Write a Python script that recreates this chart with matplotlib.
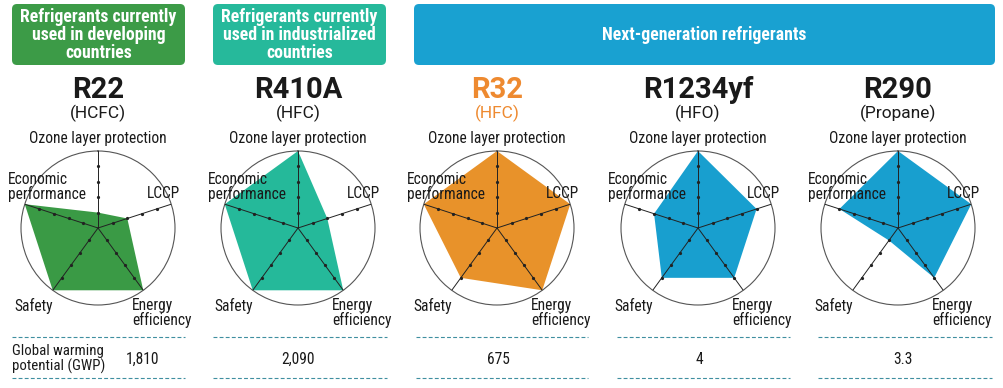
import numpy as np
import matplotlib
matplotlib.use('Agg')
import matplotlib.pyplot as plt
from matplotlib.patches import FancyBboxPatch
from matplotlib import font_manager

W, H = 1004, 388

# data
axes_labels = ['Ozone layer protection', 'LCCP', 'Energy\nefficiency', 'Safety', 'Economic\nperformance']
refrigerants = ['R22', 'R410A', 'R32', 'R1234yf', 'R290']
ref_types = ['(HCFC)', '(HFC)', '(HFC)', '(HFO)', '(Propane)']
r22 = [1, 2, 5, 5, 5]
r410a = [5, 2, 5, 5, 5]
r32 = [5, 5, 5, 4, 5]
r1234yf = [5, 4, 4, 4, 3]
r290 = [5, 5, 4, 1, 4]
gwp = ['1,810', '2,090', '675', '4', '3.3']
group_labels = ['Refrigerants currently\nused in developing\ncountries',
                'Refrigerants currently\nused in industrialized\ncountries',
                'Next-generation refrigerants']

scores = [r22, r410a, r32, r1234yf, r290]
fills = ['#3a9a45', '#25b99a', '#e8922a', '#189fcf', '#189fcf']
title_colors = ['#1a1a1a', '#1a1a1a', '#ee8a30', '#1a1a1a', '#1a1a1a']
box_colors = ['#3c9b47', '#26b99b', '#19a1d1']

names = {f.name for f in font_manager.fontManager.ttflist}
NARROW = [n for n in ['Liberation Sans Narrow', 'Roboto Condensed'] if n in names] + ['Roboto']
TITLE = ['Roboto', 'DejaVu Sans']
narrow_ok = NARROW[0] != 'Roboto'
fs_lab = 11.2 if narrow_ok else 9.3
fs_head = 12.8 if narrow_ok else 10.5

centers = [98, 298, 497, 698, 898]
cy = 228
R = 77

fig = plt.figure(figsize=(W / 100, H / 100), dpi=100)
bg = fig.add_axes([0, 0, 1, 1])
bg.set_xlim(0, W)
bg.set_ylim(H, 0)
bg.axis('off')

theta = np.linspace(0, 2 * np.pi, len(axes_labels), endpoint=False)

# radars first, text overlay afterwards
for i, cx in enumerate(centers):
    ax = fig.add_axes([(cx - R) / W, (H - cy - R) / H, 2 * R / W, 2 * R / H],
                      projection='polar')
    ax.set_theta_offset(np.pi / 2)
    ax.set_theta_direction(-1)
    ax.patch.set_alpha(0)
    vals = scores[i] + scores[i][:1]
    th = np.append(theta, theta[0])
    ax.fill(th, vals, color=fills[i], lw=0, zorder=1)
    for t in theta:
        ax.plot([t, t], [0, 5], color='#222222', lw=0.7, zorder=3)
    ax.plot(np.repeat(theta, 4), np.tile([1, 2, 3, 4], len(theta)), 'o',
            ms=1.3, color='#222222', zorder=3)
    ax.set_ylim(0, 5)
    ax.set_xticks([])
    ax.set_yticks([])
    ax.grid(False)
    ax.spines['polar'].set_color('#555555')
    ax.spines['polar'].set_linewidth(0.8)

top = fig.add_axes([0, 0, 1, 1])
top.set_xlim(0, W)
top.set_ylim(H, 0)
top.axis('off')
top.patch.set_alpha(0)

# group header boxes
boxes = [(12, 185), (213, 386), (414, 995)]
for (x0, x1), lab, col in zip(boxes, group_labels, box_colors):
    top.add_patch(FancyBboxPatch((x0 + 5, 9), x1 - x0 - 10, 51,
                                 boxstyle='round,pad=5', fc=col, ec='none'))
    top.text((x0 + x1) / 2, 35, lab, ha='center', va='center', color='white',
             fontsize=fs_head, fontweight='bold', family=NARROW, linespacing=1.0)

for i, cx in enumerate(centers):
    top.text(cx, 90, refrigerants[i], ha='center', va='center', fontsize=21,
             fontweight='bold', color=title_colors[i], family=TITLE)
    top.text(cx, 113, ref_types[i], ha='center', va='center', fontsize=12.5,
             color=title_colors[i], family=TITLE)

    kw = dict(fontsize=fs_lab, family=NARROW, color='#1a1a1a', linespacing=0.95)
    top.text(cx, cy - 90, axes_labels[0], ha='center', va='center', **kw)
    top.text(cx + 65, cy - 35, axes_labels[1], ha='center', va='center', **kw)
    top.text(cx + 34, cy + 85, axes_labels[2], ha='left', va='center', **kw)
    top.text(cx - 64, cy + 78, axes_labels[3], ha='center', va='center', **kw)
    top.text(cx - 90, cy - 41, axes_labels[4], ha='left', va='center', **kw)

# GWP row
segs = [(12, 185), (213, 387), (416, 588), (617, 790), (818, 992)]
for x0, x1 in segs:
    for y in (337, 378):
        top.plot([x0, x1], [y, y], color='#3f8fa0', lw=0.8, ls=(0, (3.5, 2)))
top.text(12, 359, 'Global warming\npotential (GWP)', ha='left', va='center',
         fontsize=fs_lab - 0.5, family=NARROW, color='#1a1a1a', linespacing=1.05)
gwp_x = [143, 298, 498, 699, 903]
for x, g in zip(gwp_x, gwp):
    top.text(x, 359, g, ha='center', va='center', fontsize=fs_lab, family=NARROW,
             color='#1a1a1a')

fig.savefig('out.png', dpi=100)
